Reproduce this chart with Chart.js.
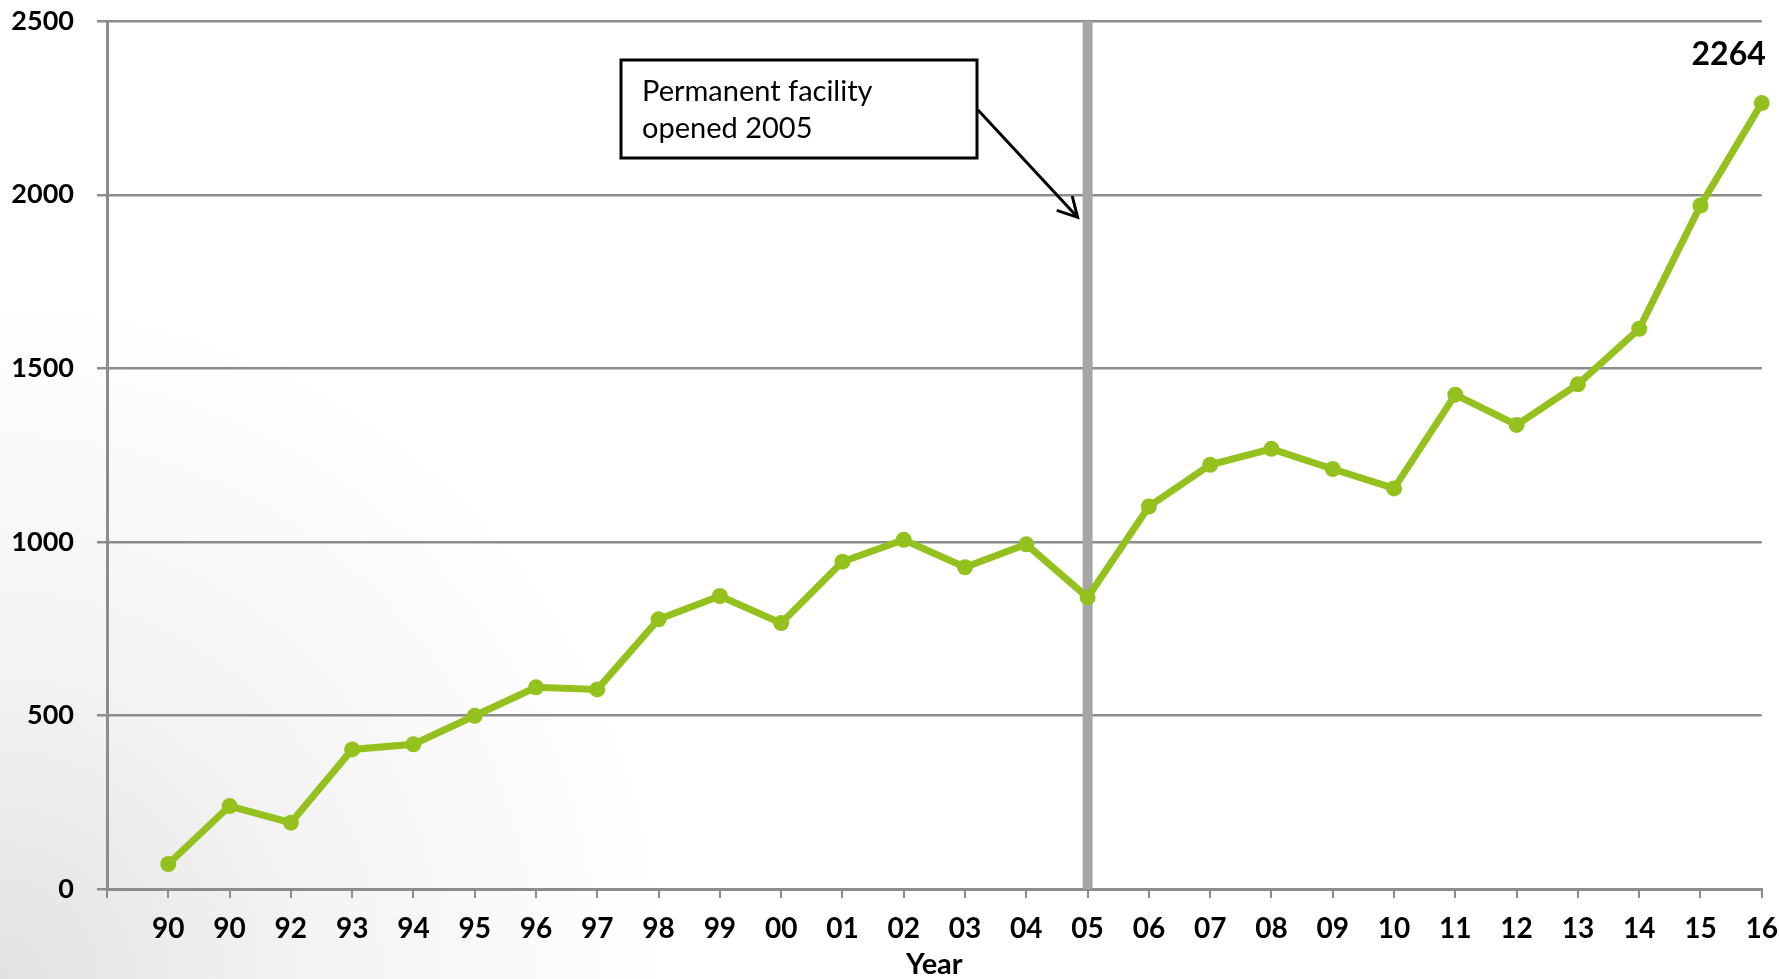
<!DOCTYPE html>
<html>
<head>
<meta charset="utf-8">
<script src="https://cdn.jsdelivr.net/npm/chart.js@4/dist/chart.umd.min.js"></script>
<style>
	html, body { margin: 0; padding: 0; width: 1779px; height: 979px; overflow: hidden; }
	body { position: relative; background: radial-gradient(ellipse 38% 70% at 0% 100%, #e2e2e2 0%, #f3f3f3 45%, #ffffff 100%); }
	/* canvas a bit larger than the window so the plot reaches the top and right edges like the original */
	#wrap { position: absolute; left: 0; top: -18px; width: 1792px; height: 997px; }
</style>
</head>
<body>
<div id="wrap"><canvas id="myChart"></canvas></div>
<script>
	var years = ['90','90','92','93','94','95','96','97','98','99','00','01','02','03','04','05','06','07','08','09','10','11','12','13','14','15','16'];
	var visitors = [72, 239, 191, 402, 417, 499, 581, 575, 777, 844, 766, 943, 1006, 927, 993, 840, 1102, 1222, 1268, 1210, 1154, 1424, 1337, 1454, 1614, 1969, 2264];
	var y_ticks = [0, 500, 1000, 1500, 2000, 2500];
	var marker_year = '05';
	var note_lines = ['Permanent facility', 'opened 2005'];

	var green = '#95c11f';
	var grid_gray = '#8c8c8c';
	var font_face = 'Lato, "Open Sans", sans-serif';

	// first slot is empty so the first year sits one step right of the axis
	var label_chart = [''].concat(years);
	var data_line = [null].concat(visitors);

	var markers = {
		id: 'markers',
		beforeDatasetsDraw: function(chart) {
			var ctx = chart.ctx, a = chart.chartArea;
			var px = chart.scales.x.getPixelForValue(years.indexOf(marker_year) + 1);
			ctx.save();
			ctx.fillStyle = '#a6a6a6';
			ctx.fillRect(px - 5, a.top, 10, a.bottom - a.top);
			ctx.restore();
		},
		afterDraw: function(chart) {
			var ctx = chart.ctx;
			var ys = chart.scales.y;
			var px = chart.scales.x.getPixelForValue(years.indexOf(marker_year) + 1);
			var off = 18; // canvas is shifted up by this much

			// callout box
			ctx.save();
			ctx.fillStyle = '#ffffff';
			ctx.fillRect(621, 60 + off, 356, 98);
			ctx.lineWidth = 3;
			ctx.strokeStyle = '#000000';
			ctx.strokeRect(621, 60 + off, 356, 98);
			ctx.fillStyle = '#000000';
			ctx.font = '29px ' + font_face;
			ctx.textAlign = 'left';
			ctx.textBaseline = 'alphabetic';
			ctx.fillText(note_lines[0], 642, 101 + off);
			ctx.fillText(note_lines[1], 642, 138 + off);

			// arrow to the marker bar
			var tx = px - 10, ty = ys.getPixelForValue(1935);
			var sx = 978, sy = 110 + off;
			ctx.lineWidth = 3;
			ctx.beginPath();
			ctx.moveTo(sx, sy);
			ctx.lineTo(tx, ty);
			ctx.stroke();
			var ang = Math.atan2(ty - sy, tx - sx);
			ctx.beginPath();
			ctx.moveTo(tx - 22 * Math.cos(ang - 0.5), ty - 22 * Math.sin(ang - 0.5));
			ctx.lineTo(tx, ty);
			ctx.lineTo(tx - 22 * Math.cos(ang + 0.5), ty - 22 * Math.sin(ang + 0.5));
			ctx.stroke();

			// last value label
			var meta = chart.getDatasetMeta(0);
			var last = meta.data[meta.data.length - 1];
			ctx.font = 'bold 32px ' + font_face;
			ctx.textAlign = 'right';
			ctx.fillText(String(visitors[visitors.length - 1]), last.x + 4, last.y - 38);
			ctx.restore();
		}
	};

	var ctxLine = document.getElementById('myChart').getContext('2d');
	var myLine = new Chart(ctxLine, {
		type: 'line',
		data: {
			labels: label_chart,
			datasets: [{
				label: 'Visitors',
				data: data_line,
				borderColor: green,
				backgroundColor: green,
				borderWidth: 7,
				pointRadius: 8,
				pointBorderWidth: 0,
				pointBackgroundColor: green,
				tension: 0,
				fill: false
			}]
		},
		options: {
			responsive: true,
			maintainAspectRatio: false,
			animation: false,
			layout: { padding: { top: 1, right: 4, left: 0, bottom: 0 } },
			plugins: {
				legend: { display: false },
				tooltip: { enabled: false }
			},
			scales: {
				x: {
					offset: false,
					grid: { drawOnChartArea: false, drawTicks: true, tickLength: 9, color: grid_gray, lineWidth: 2 },
					border: { display: true, color: grid_gray, width: 3 },
					ticks: {
						autoSkip: false,
						maxRotation: 0,
						padding: 14,
						color: '#000000',
						font: { family: font_face, size: 28, weight: 'bold' }
					},
					title: {
						display: true,
						text: 'Year',
						color: '#000000',
						padding: { top: 0, bottom: 0 },
						font: { family: font_face, size: 29, weight: 'bold', lineHeight: 1.0 }
					},
					afterFit: function(scale) { scale.height = 90; }
				},
				y: {
					min: 0,
					max: 2500,
					afterBuildTicks: function(scale) {
						scale.ticks = y_ticks.map(function(v) { return { value: v }; });
					},
					grid: { drawOnChartArea: true, drawTicks: true, tickLength: 10, color: grid_gray, lineWidth: 2.5 },
					border: { display: true, color: grid_gray, width: 3 },
					ticks: {
						padding: 23,
						color: '#000000',
						font: { family: font_face, size: 27, weight: 'bold' },
						callback: function(v) { return String(v); }
					},
					afterFit: function(scale) { scale.width = 107; }
				}
			}
		},
		plugins: [markers]
	});
</script>
</body>
</html>
